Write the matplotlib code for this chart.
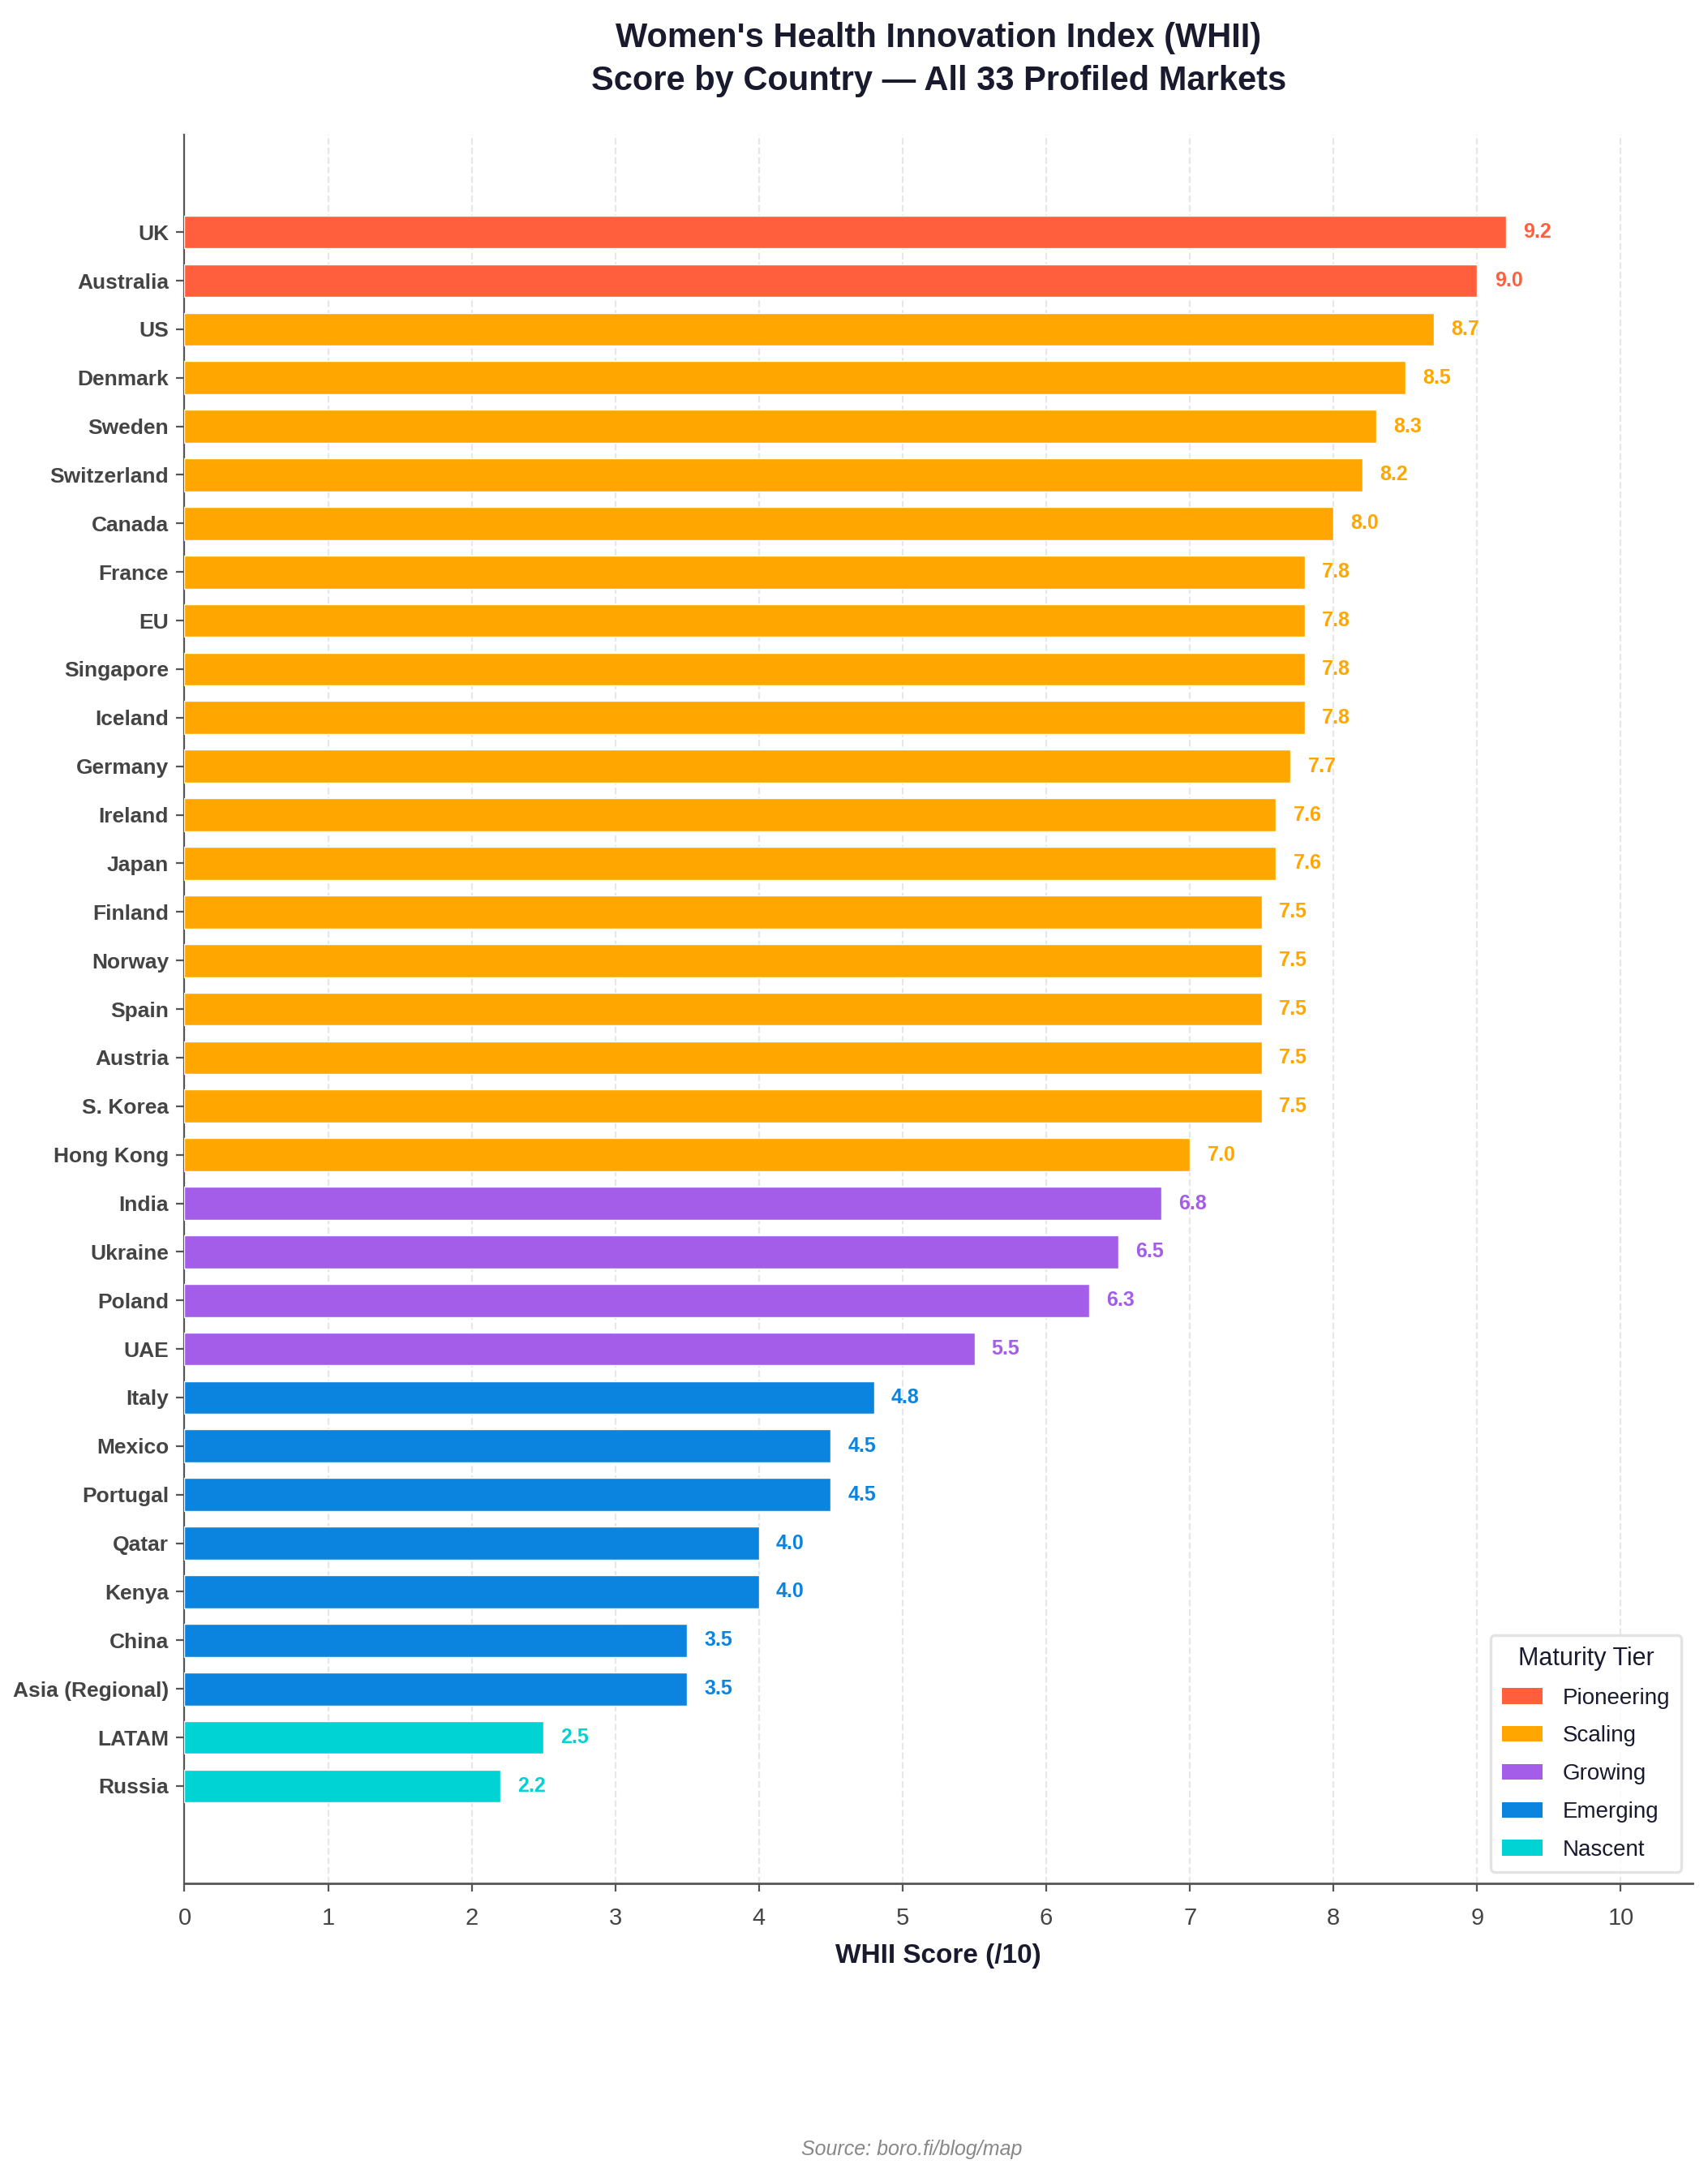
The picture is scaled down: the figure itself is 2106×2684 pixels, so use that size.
import matplotlib
matplotlib.use("Agg")
import matplotlib.pyplot as plt
from matplotlib.patches import Patch

plt.rcParams['font.family'] = ['Liberation Sans', 'DejaVu Sans']

countries = ['UK', 'Australia', 'US', 'Denmark', 'Sweden', 'Switzerland', 'Canada',
             'France', 'EU', 'Singapore', 'Iceland', 'Germany', 'Ireland', 'Japan',
             'Finland', 'Norway', 'Spain', 'Austria', 'S. Korea', 'Hong Kong',
             'India', 'Ukraine', 'Poland', 'UAE',
             'Italy', 'Mexico', 'Portugal', 'Qatar', 'Kenya', 'China', 'Asia (Regional)',
             'LATAM', 'Russia']
scores = [9.2, 9.0, 8.7, 8.5, 8.3, 8.2, 8.0,
          7.8, 7.8, 7.8, 7.8, 7.7, 7.6, 7.6,
          7.5, 7.5, 7.5, 7.5, 7.5, 7.0,
          6.8, 6.5, 6.3, 5.5,
          4.8, 4.5, 4.5, 4.0, 4.0, 3.5, 3.5,
          2.5, 2.2]
tiers = ['Pioneering'] * 2 + ['Scaling'] * 18 + ['Growing'] * 4 + ['Emerging'] * 7 + ['Nascent'] * 2

tier_names = ['Pioneering', 'Scaling', 'Growing', 'Emerging', 'Nascent']
tier_colors = ['#FF5F3C', '#FFA700', '#A35DE8', '#0B84E0', '#00D3D3']
cmap = dict(zip(tier_names, tier_colors))

navy = '#1a1a2e'
grey = '#444444'

fig = plt.figure(figsize=(10.53, 13.42), dpi=200)
ax = fig.add_axes([0.108, 0.135, 0.883, 0.803])

ypos = list(range(len(countries)))
colors = [cmap[t] for t in tiers]
ax.barh(ypos, scores, height=0.68, color=colors, edgecolor='white', linewidth=0.5, zorder=3)

# value labels at bar ends
for y, s, c in zip(ypos, scores, colors):
    ax.text(s + 0.12, y, f'{s:.1f}', va='center', ha='left', fontsize=9,
            fontweight='bold', color=c, zorder=4)

ax.set_yticks(ypos)
ax.set_yticklabels(countries, fontsize=9.5, fontweight='bold', color=grey)
ax.set_ylim(34, -2)
ax.set_xlim(0, 10.5)
ax.set_xticks(range(0, 11))
ax.tick_params(axis='x', labelsize=10.5, labelcolor=grey, color='#555555', pad=7)
ax.tick_params(axis='y', color='#555555')

ax.grid(axis='x', linestyle='--', color='#dddddd', linewidth=0.8, alpha=0.7, zorder=0)
ax.set_axisbelow(True)

for side in ['top', 'right']:
    ax.spines[side].set_visible(False)
ax.spines['left'].set_color('#555555')
ax.spines['left'].set_linewidth(0.8)
ax.spines['bottom'].set_color('#555555')
ax.spines['bottom'].set_linewidth(1.0)

ax.set_xlabel('WHII Score (/10)', fontsize=12, fontweight='bold', color=navy, labelpad=6.3)
ax.set_title("Women's Health Innovation Index (WHII)\nScore by Country \u2014 All 33 Profiled Markets",
             fontsize=15, fontweight='bold', color=navy, pad=20, linespacing=1.43)

handles = [Patch(facecolor=c, label=n) for n, c in zip(tier_names, tier_colors)]
leg = ax.legend(handles=handles, title='Maturity Tier', loc='lower right', fontsize=10,
                title_fontsize=11, frameon=True, fancybox=True, labelspacing=0.75,
                handlelength=1.8, handletextpad=0.9, borderpad=0.5)
leg.get_frame().set_edgecolor('#dddddd')
leg.get_frame().set_linewidth(1.2)
for t in leg.get_texts():
    t.set_color(navy)
leg.get_title().set_color(navy)

fig.text(0.534, 0.0127, 'Source: boro.fi/blog/map', ha='center', va='center',
         fontsize=9, style='italic', color='#888888')

fig.savefig('out.png', dpi=200)
